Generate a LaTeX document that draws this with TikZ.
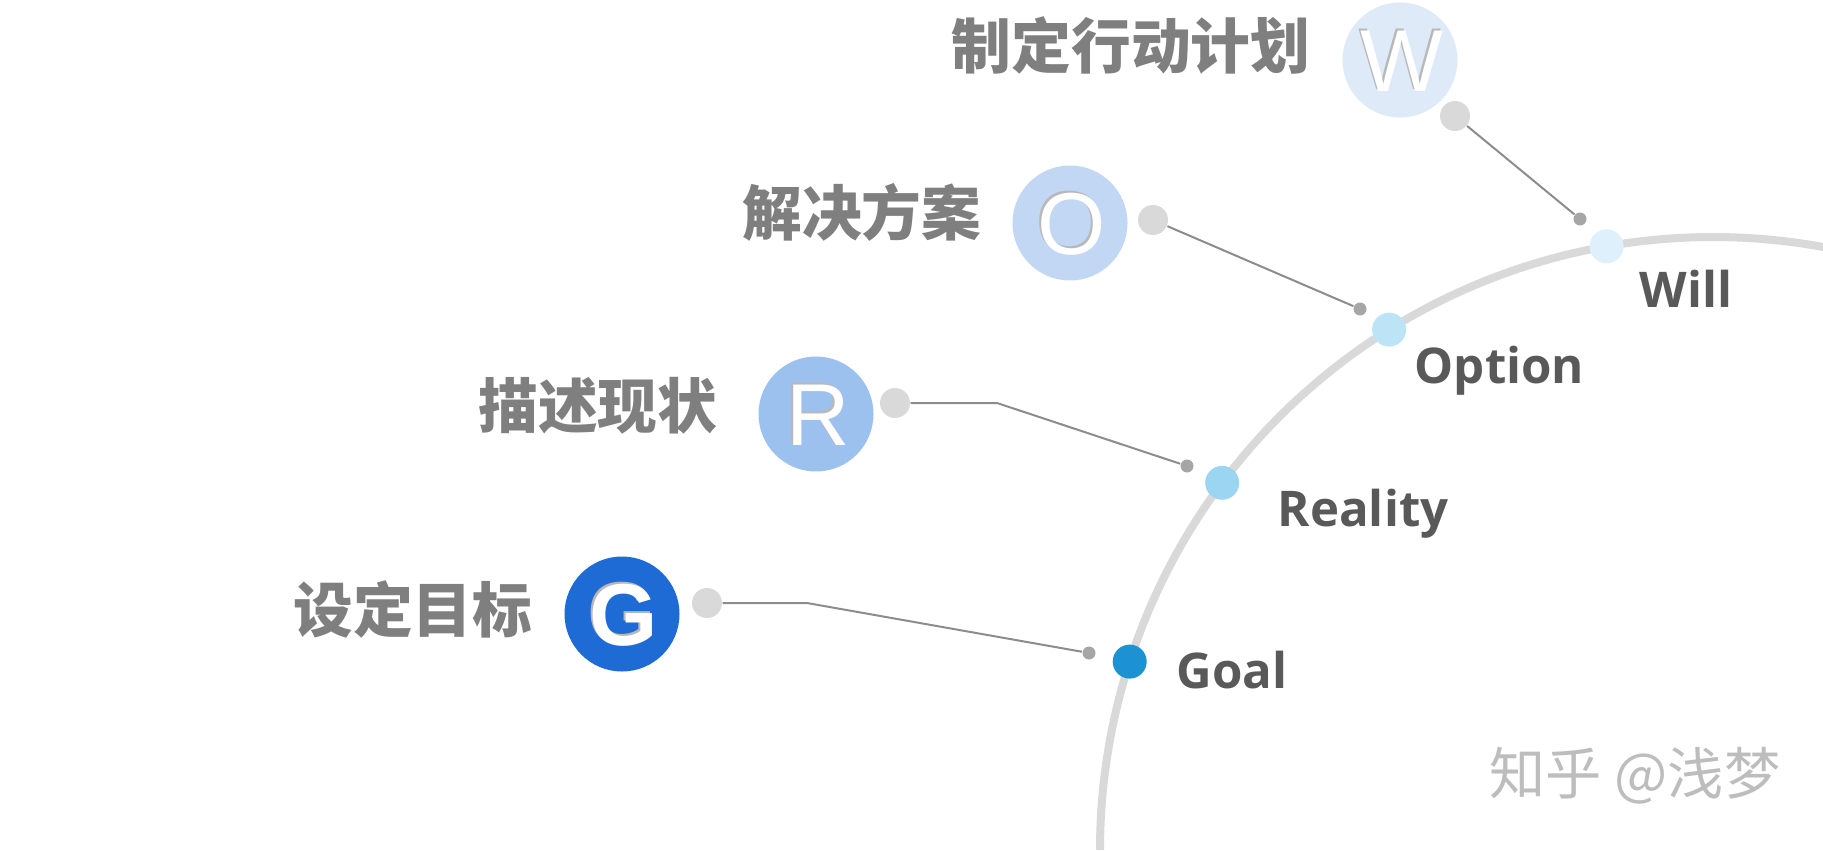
\documentclass[tikz,border=0pt]{standalone}
\usepackage{fontspec}
\newfontfamily\cjk{Noto Sans CJK SC}
\newfontfamily\latinbold{Open Sans}
\newfontfamily\letterfont{Liberation Sans}

\definecolor{arcgrey}{HTML}{D9D9D9}
\definecolor{knobgrey}{HTML}{D9D9D9}
\definecolor{tipgrey}{HTML}{A6A6A6}
\definecolor{linkgrey}{HTML}{8C8C8C}
\definecolor{cjkgrey}{HTML}{7F7F7F}
\definecolor{labelgrey}{HTML}{595959}
\definecolor{wfill}{HTML}{DEEAF8}
\definecolor{ofill}{HTML}{C2D7F3}
\definecolor{rfill}{HTML}{9DC1EE}
\definecolor{gfill}{HTML}{1F6BD6}
\definecolor{willdot}{HTML}{DDF0FB}
\definecolor{optiondot}{HTML}{BDE4F6}
\definecolor{realitydot}{HTML}{9CD5F1}
\definecolor{goaldot}{HTML}{1D92D3}
\definecolor{markgrey}{HTML}{BDBDBD}

% white letter with a soft grey rim
\newcommand{\emboss}[1]{\makebox[0pt][l]{\textcolor{black!28}{#1}}\kern0.2mm\raisebox{-0.2mm}{\textcolor{white}{#1}}\kern-0.2mm}

\begin{document}
\begin{tikzpicture}[x=0.1mm, y=0.1mm,
    circ/.style={circle, minimum size=11.5mm, inner sep=0, font=\letterfont\fontsize{25}{25}\selectfont},
    knob/.style={circle, fill=knobgrey, minimum size=3mm, inner sep=0},
    tip/.style={circle, fill=tipgrey, minimum size=1.3mm, inner sep=0},
    arcdot/.style={circle, minimum size=3.4mm, inner sep=0},
    link/.style={draw=linkgrey, line width=0.2mm},
    cjklabel/.style={anchor=east, inner sep=0, text=cjkgrey, font=\cjk\bfseries\fontsize{17}{20}\selectfont},
    armlabel/.style={anchor=base west, inner sep=0, text=labelgrey, font=\latinbold\bfseries\fontsize{14}{17}\selectfont}]
    \useasboundingbox (0,0) rectangle (1823,850);

    % Track
    \coordinate (ctr) at (1713,0);
    \draw[arcgrey, line width=0.8mm] (ctr) ++(180:613) arc[start angle=180, end angle=79.6, radius=613];

    % Dots on the track
    \node[arcdot, fill=willdot] (will) at ([shift={(100.0:613)}]ctr) {};
    \node[arcdot, fill=optiondot] (option) at ([shift={(121.9:613)}]ctr) {};
    \node[arcdot, fill=realitydot] (reality) at ([shift={(143.2:613)}]ctr) {};
    \node[arcdot, fill=goaldot] (goal) at ([shift={(162.1:613)}]ctr) {};

    \node[armlabel] (willtxt) at (1639,543) {Will};
    \node[armlabel] (optiontxt) at (1414,467) {Option};
    \node[armlabel] (realitytxt) at (1277,324) {Reality};
    \node[armlabel] (goaltxt) at (1176,162) {Goal};

    % Circles
    \node[circ, fill=wfill] (wcirc) at (1400,790) {\raisebox{-0.5mm}{\emboss{W}}};
    \node[circ, fill=ofill] (ocirc) at (1070,627) {\emboss{O}};
    \node[circ, fill=rfill] (rcirc) at (816,436) {\emboss{R}};
    \node[circ, fill=gfill, font=\letterfont\bfseries\fontsize{25}{25}\selectfont] (gcirc) at (622,236) {\emboss{G}};

    \node[cjklabel] (wlabel) at (1311,804) {制定行动计划};
    \node[cjklabel] (olabel) at (982,638) {解决方案};
    \node[cjklabel] (rlabel) at (718,444) {描述现状};
    \node[cjklabel] (glabel) at (533,241) {设定目标};

    % Connections
    \node[knob] (wknob) at (1455,734) {};
    \node[tip] (wtip) at (1580,631) {};
    \draw[link] (wknob) -- (wtip);

    \node[knob] (oknob) at (1153,630) {};
    \node[tip] (otip) at (1360,541) {};
    \draw[link] (oknob) -- (otip);

    \node[knob] (rknob) at (895,447) {};
    \coordinate (rbend) at (997,447);
    \node[tip] (rtip) at (1187,384) {};
    \draw[link] (rknob) -- (rbend) -- (rtip);

    \node[knob] (gknob) at (707,247) {};
    \coordinate (gbend) at (807,247);
    \node[tip] (gtip) at (1089,197) {};
    \draw[link] (gknob) -- (gbend) -- (gtip);

    % Watermark
    \node[anchor=west, inner sep=0, text=markgrey, font=\cjk\fontsize{16}{18}\selectfont] (mark) at (1489,74) {知乎 @浅梦};
\end{tikzpicture}
\end{document}
